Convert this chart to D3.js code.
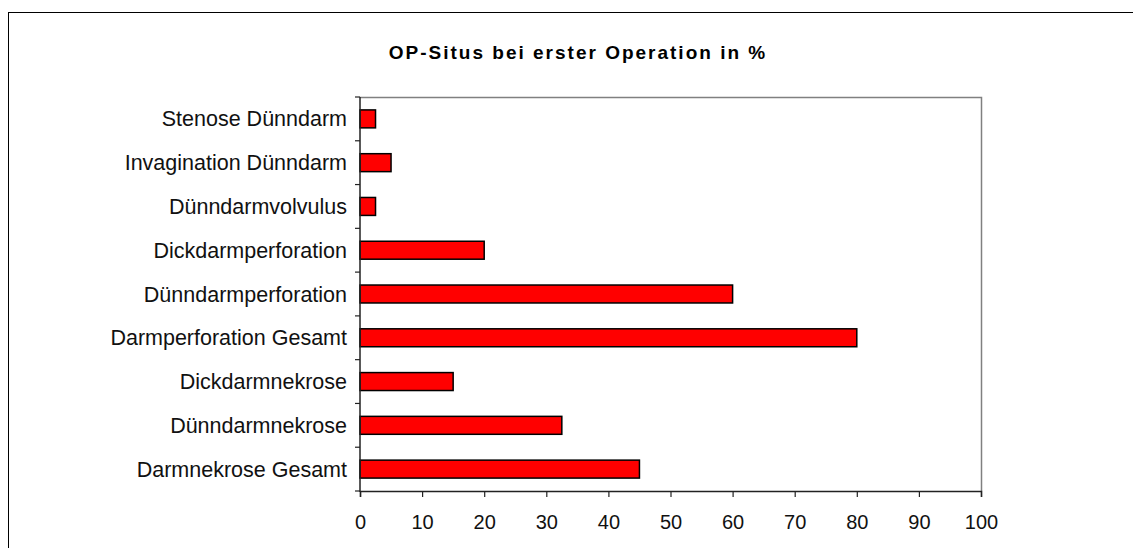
<!DOCTYPE html>
<html>
<head>
<meta charset="utf-8">
<script src="https://cdn.jsdelivr.net/npm/d3@7"></script>
<style>
  body { margin: 0; background: #fff; }
  text { font-family: "Liberation Sans", Arial, sans-serif; }
</style>
</head>
<body>
<script>
// categories top to bottom
var categories = ["Stenose Dünndarm", "Invagination Dünndarm", "Dünndarmvolvulus",
  "Dickdarmperforation", "Dünndarmperforation", "Darmperforation Gesamt",
  "Dickdarmnekrose", "Dünndarmnekrose", "Darmnekrose Gesamt"];
var values = [2.5, 5, 2.5, 20, 60, 80, 15, 32.5, 45];
var xTicks = [0, 10, 20, 30, 40, 50, 60, 70, 80, 90, 100];
var title = "OP-Situs bei erster Operation in %";

var W = 1133, H = 548;
var pLeft = 360, pRight = 981, pTop = 97, pBottom = 491;

var svg = d3.select("body").append("svg").attr("width", W).attr("height", H);

// outer frame (runs off the page at right and bottom)
svg.append("rect").attr("x", 8.5).attr("y", 12.5).attr("width", W).attr("height", H)
  .attr("fill", "none").attr("stroke", "#000").attr("stroke-width", 1);

svg.append("text").attr("x", 578).attr("y", 59).attr("text-anchor", "middle")
  .attr("font-size", 19).attr("font-weight", "bold").attr("letter-spacing", 2)
  .text(title);

var x = d3.scaleLinear().domain([0, 100]).range([pLeft, pRight]);
var y = d3.scaleBand().domain(categories).range([pTop, pBottom]).paddingInner(0.59).paddingOuter(0.295);
var yb = d3.scaleBand().domain(categories).range([pTop, pBottom]);

// plot frame top/right in gray
svg.append("path")
  .attr("d", "M" + pLeft + "," + (pTop + 0.5) + "H" + (pRight + 0.5) + "V" + pBottom)
  .attr("fill", "none").attr("stroke", "#808080").attr("stroke-width", 1.5);

svg.selectAll("rect.bar").data(values).enter().append("rect")
  .attr("class", "bar")
  .attr("x", x(0))
  .attr("y", function(d, i) { return y(categories[i]); })
  .attr("width", function(d) { return x(d) - x(0); })
  .attr("height", y.bandwidth())
  .attr("fill", "#ff0000")
  .attr("stroke", "#000")
  .attr("stroke-width", 1.5);

// left axis with ticks on band boundaries
var yAxis = svg.append("g");
yAxis.append("line").attr("x1", pLeft).attr("x2", pLeft).attr("y1", pTop).attr("y2", pBottom + 1)
  .attr("stroke", "#222").attr("stroke-width", 1.5);
var bounds = categories.map(function(c) { return yb(c); }).concat([pBottom]);
yAxis.selectAll("line.tk").data(bounds).enter().append("line").attr("class", "tk")
  .attr("x1", pLeft - 5).attr("x2", pLeft).attr("y1", function(d) { return d; }).attr("y2", function(d) { return d; })
  .attr("stroke", "#222").attr("stroke-width", 1.2);
yAxis.selectAll("text").data(categories).enter().append("text")
  .attr("x", 347)
  .attr("y", function(d) { return yb(d) + yb.bandwidth() / 2; })
  .attr("dy", "0.35em")
  .attr("text-anchor", "end")
  .attr("font-size", 21.5)
  .attr("fill", "#111")
  .text(function(d) { return d; });

// bottom axis
var xAxis = svg.append("g").attr("transform", "translate(0," + pBottom + ")")
  .call(d3.axisBottom(x).tickValues(xTicks).tickSize(6).tickPadding(18));
xAxis.select(".domain").attr("stroke", "#222").attr("stroke-width", 1.5);
xAxis.selectAll(".tick line").attr("stroke", "#222").attr("stroke-width", 1.2);
xAxis.selectAll(".tick text").attr("font-size", 20).attr("fill", "#111")
  .style("font-family", "'Liberation Sans', Arial, sans-serif");
</script>
</body>
</html>
